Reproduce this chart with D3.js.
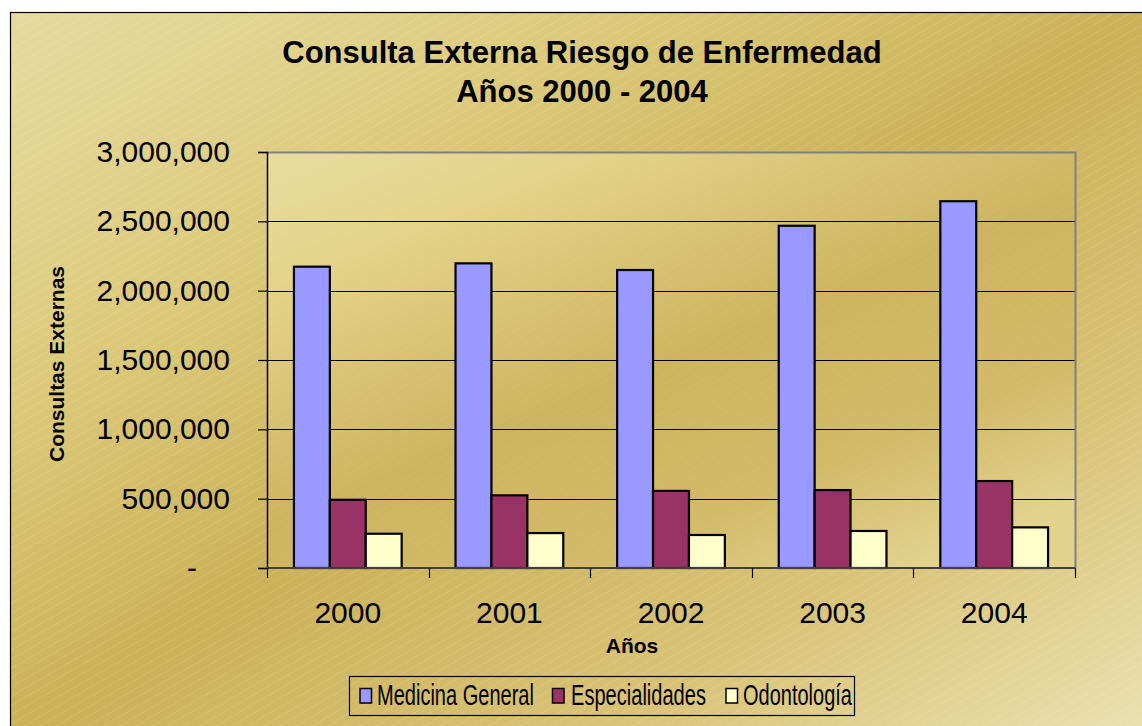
<!DOCTYPE html>
<html>
<head>
<meta charset="utf-8">
<script src="https://cdn.jsdelivr.net/npm/d3@7"></script>
<style>
  html, body { margin: 0; padding: 0; background: #ffffff; }
  svg { display: block; }
  text { font-family: "Liberation Sans", Arial, sans-serif; fill: #000; }
</style>
</head>
<body>
<svg id="chart" width="1142" height="726"></svg>
<script>
// ---- data ----
const years = ["2000", "2001", "2002", "2003", "2004"];
const seriesNames = ["Medicina General", "Especialidades", "Odontología"];
const medicinaGeneral = [2173000, 2197000, 2149000, 2468000, 2645000];
const especialidades = [492000, 524000, 556000, 562000, 627000];
const odontologia = [247000, 252000, 238000, 267000, 293000];
const yTicks = [0, 500000, 1000000, 1500000, 2000000, 2500000, 3000000];
const titleLines = ["Consulta Externa Riesgo de Enfermedad", "Años 2000 - 2004"];
const yTitle = "Consultas Externas";
const xTitle = "Años";

const seriesValues = [medicinaGeneral, especialidades, odontologia];
const colors = ["#9999FF", "#993366", "#FFFFCC"];

// ---- layout ----
const W = 1142, H = 726;
const plot = { left: 267, right: 1075, top: 152, bottom: 568 };

const svg = d3.select("#chart");
const defs = svg.append("defs");

// outer gradient
const g1 = defs.append("linearGradient").attr("id", "outerGrad")
  .attr("x1", "0").attr("y1", "0").attr("x2", "1").attr("y2", "1");
[[0, "#E6DAA2"], [0.25, "#DDCB7C"], [0.5, "#CBB158"], [0.75, "#D8C275"], [1, "#ECE1B2"]]
  .forEach(([o, c]) => g1.append("stop").attr("offset", o).attr("stop-color", c));

// plot gradient
const g2 = defs.append("linearGradient").attr("id", "plotGrad")
  .attr("x1", "0").attr("y1", "0").attr("x2", "0.8").attr("y2", "1");
[[0, "#E8DCA0"], [0.2, "#E4D388"], [0.55, "#CDB460"], [0.8, "#D2BA68"], [1, "#E2D28E"]]
  .forEach(([o, c]) => g2.append("stop").attr("offset", o).attr("stop-color", c));

// stripe pattern
const pat = defs.append("pattern").attr("id", "stripes")
  .attr("patternUnits", "userSpaceOnUse").attr("width", 8).attr("height", 8)
  .attr("patternTransform", "rotate(-30)");
pat.append("line").attr("x1", 0).attr("y1", 0).attr("x2", 8).attr("y2", 0)
  .attr("stroke", "#ffffff").attr("stroke-width", 1).attr("stroke-opacity", 0.35)
  .attr("stroke-dasharray", "1.5,1");

// chart area
svg.append("rect").attr("x", 10.5).attr("y", 12.5).attr("width", W).attr("height", H)
  .attr("fill", "url(#outerGrad)");
svg.append("rect").attr("x", 10.5).attr("y", 12.5).attr("width", W).attr("height", H)
  .attr("fill", "url(#stripes)").attr("stroke", "#000").attr("stroke-width", 1.2);

// plot area
svg.append("rect").attr("x", plot.left).attr("y", plot.top)
  .attr("width", plot.right - plot.left).attr("height", plot.bottom - plot.top)
  .attr("fill", "url(#plotGrad)");
svg.append("rect").attr("x", plot.left).attr("y", plot.top)
  .attr("width", plot.right - plot.left).attr("height", plot.bottom - plot.top)
  .attr("fill", "url(#stripes)").attr("opacity", 0.35);

// scales
const x0 = d3.scaleBand().domain(years).range([plot.left, plot.right]).paddingInner(0).paddingOuter(0);
const x1 = d3.scaleBand().domain(seriesNames).range([0, x0.bandwidth()]).paddingInner(0).paddingOuter(0.75);
const y = d3.scaleLinear().domain([0, 3000000]).range([plot.bottom, plot.top]);

// gridlines
svg.append("g").selectAll("line").data(yTicks.filter(t => t > 0 && t < 3000000)).join("line")
  .attr("x1", plot.left).attr("x2", plot.right)
  .attr("y1", d => Math.round(y(d)) + 0.5).attr("y2", d => Math.round(y(d)) + 0.5)
  .attr("stroke", "#000").attr("stroke-width", 1);

// plot border top/right (grey)
svg.append("path")
  .attr("d", `M${plot.left},${plot.top + 0.5}H${plot.right + 0.5}V${plot.bottom}`)
  .attr("fill", "none").attr("stroke", "#808080").attr("stroke-width", 2);

// bars
const gBars = svg.append("g");
years.forEach((yr, i) => {
  seriesNames.forEach((s, j) => {
    const v = seriesValues[j][i];
    gBars.append("rect")
      .attr("x", x0(yr) + x1(s))
      .attr("y", y(v))
      .attr("width", x1.bandwidth())
      .attr("height", y(0) - y(v))
      .attr("fill", colors[j])
      .attr("stroke", "#000").attr("stroke-width", 2.2);
  });
});

// y axis
const yAxis = d3.axisLeft(y).tickValues(yTicks).tickSize(9).tickPadding(28)
  .tickFormat(d => d === 0 ? "-" : d3.format(",")(d));
const gy = svg.append("g").attr("transform", `translate(${plot.left},0)`).call(yAxis);
gy.select(".domain").attr("stroke", "#000").attr("stroke-width", 1.5);
gy.selectAll(".tick line").attr("stroke", "#000").attr("stroke-width", 1.2);
gy.selectAll(".tick text").attr("font-size", 30).attr("font-family", "'Liberation Sans', Arial, sans-serif")
  .attr("fill", "#000");
gy.selectAll(".tick text").filter(d => d === 0).attr("dx", -33);

// x axis (labels)
const xAxis = d3.axisBottom(x0).tickSize(0).tickPadding(34);
const gx = svg.append("g").attr("transform", `translate(0,${plot.bottom})`).call(xAxis);
gx.select(".domain").remove();
gx.selectAll(".tick text").attr("font-size", 30).attr("font-family", "'Liberation Sans', Arial, sans-serif")
  .attr("fill", "#000");

// x axis line + boundary ticks
svg.append("line").attr("x1", plot.left).attr("x2", plot.right)
  .attr("y1", plot.bottom).attr("y2", plot.bottom)
  .attr("stroke", "#404040").attr("stroke-width", 2);
const boundaries = years.map(d => x0(d)).concat([x0(years[years.length - 1]) + x0.bandwidth()]);
svg.append("g").selectAll("line").data(boundaries).join("line")
  .attr("x1", d => Math.round(d) + 0.5).attr("x2", d => Math.round(d) + 0.5)
  .attr("y1", plot.bottom).attr("y2", plot.bottom + 10)
  .attr("stroke", "#000").attr("stroke-width", 1.2);

// titles
const cx = 582;
svg.append("text").attr("x", cx).attr("y", 63).attr("text-anchor", "middle")
  .attr("font-size", 31).attr("font-weight", "bold").text(titleLines[0]);
svg.append("text").attr("x", cx).attr("y", 102).attr("text-anchor", "middle")
  .attr("font-size", 31).attr("font-weight", "bold").text(titleLines[1]);

svg.append("text").attr("transform", "translate(64,364) rotate(-90)")
  .attr("text-anchor", "middle").attr("font-size", 21).attr("font-weight", "bold").text(yTitle);
svg.append("text").attr("x", 632).attr("y", 653).attr("text-anchor", "middle")
  .attr("font-size", 21).attr("font-weight", "bold").text(xTitle);

// legend
const legend = { x: 349.5, y: 676.5, w: 505, h: 39 };
const legendItems = [
  { swatch: 360, text: 377, len: 157 },
  { swatch: 552.5, text: 571, len: 135 },
  { swatch: 726, text: 743, len: 109 }
];
svg.append("rect").attr("x", legend.x).attr("y", legend.y).attr("width", legend.w).attr("height", legend.h)
  .attr("fill", "none").attr("stroke", "#000").attr("stroke-width", 1.2);
seriesNames.forEach((s, j) => {
  const it = legendItems[j];
  svg.append("rect").attr("x", it.swatch).attr("y", 688.5).attr("width", 11.5).attr("height", 14.5)
    .attr("fill", colors[j]).attr("stroke", "#000").attr("stroke-width", 1.5);
  const t = svg.append("text").attr("x", 0).attr("y", 0).attr("font-size", 30).text(s);
  const natural = t.node().getComputedTextLength();
  t.attr("transform", `translate(${it.text},704.5) scale(${it.len / natural},1)`);
});
</script>
</body>
</html>
